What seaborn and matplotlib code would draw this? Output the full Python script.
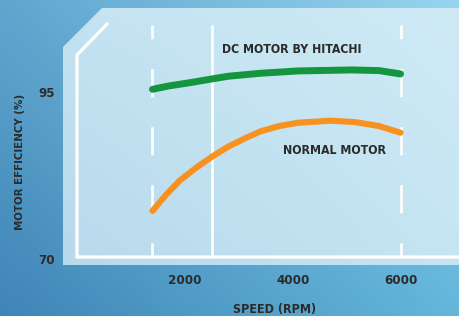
import numpy as np
import seaborn as sns
import matplotlib.pyplot as plt
from matplotlib.patches import Polygon
from matplotlib.colors import to_rgb

# Values: speed (rpm) and motor efficiency (%)
hitachi_rpm = [1400, 1700, 2100, 2500, 2800, 3400, 4100, 5100, 5600, 6000]
hitachi_eff = [95.4, 95.9, 96.4, 96.95, 97.35, 97.8, 98.15, 98.3, 98.2, 97.7]
normal_rpm = [1400, 1650, 1900, 2200, 2500, 2800, 3100, 3400, 3750, 4100,
              4700, 5150, 5600, 6000]
normal_eff = [77.2, 79.6, 81.7, 83.6, 85.3, 86.8, 88.0, 89.1, 89.9, 90.4,
              90.7, 90.5, 89.9, 88.9]
x_ticks = [2000, 4000, 6000]
y_ticks = [70, 95]
dashed_rpm = [1400, 6000]
solid_rpm = [2500]

FONT = ['DejaVu Sans Condensed', 'Liberation Sans Narrow', 'DejaVu Sans']
TEXT = '#2b2b2b'
plt.rcParams['font.family'] = FONT
plt.rcParams['font.stretch'] = 'condensed'
plt.rcParams['font.weight'] = 'bold'
plt.rcParams['axes.labelweight'] = 'bold'
plt.rcParams['lines.scale_dashes'] = False

W, H = 459, 316
fig = plt.figure(figsize=(W / 100, H / 100), dpi=100)


def gradient(h, w, tl, tr, bl, br):
    # bilinear blend of four corner colours
    tl, tr, bl, br = (np.array(to_rgb(c)) for c in (tl, tr, bl, br))
    u = np.linspace(0, 1, w)[None, :, None]
    v = np.linspace(0, 1, h)[:, None, None]
    top = tl * (1 - u) + tr * u
    bot = bl * (1 - u) + br * u
    return top * (1 - v) + bot * v


# background in pixel coordinates
bg = fig.add_axes([0, 0, 1, 1])
bg.set_xlim(0, W)
bg.set_ylim(H, 0)
bg.axis('off')
bg.imshow(gradient(H, W, '#5fa6cf', '#96d5ee', '#3f85b7', '#63b6db'),
          extent=(0, W, H, 0), aspect='auto', zorder=0)

# light panel with chamfered corner
panel = Polygon([(63, 265), (63, 47), (102, 8), (W, 8), (W, 265)],
                closed=True, facecolor='none', edgecolor='none')
bg.add_patch(panel)
im = bg.imshow(gradient(H, W, '#c3e2f1', '#cfeaf5', '#b2d6ea', '#c4e4f2'),
               extent=(0, W, H, 0), aspect='auto', zorder=1)
im.set_clip_path(panel)

# white frame
bg.plot([108, 77, 77, W], [23, 55, 257, 257], color='white', lw=2.3,
        solid_joinstyle='miter', solid_capstyle='butt', zorder=2)

# data axes
ax = fig.add_axes([77 / W, (H - 259) / H, 382 / W, 251 / H])
ax.patch.set_alpha(0)
ax.set_xlim(0, 7084)
ax.set_ylim(70, 107.57)
for s in ax.spines.values():
    s.set_visible(False)

ax.vlines(dashed_rpm, 70.3, 105, colors='white', lw=1.9,
          linestyles=[(10.0, (20.2, 21.6))], zorder=1)
ax.vlines(solid_rpm, 70.3, 105, colors='white', lw=1.9, zorder=1)

sns.lineplot(x=hitachi_rpm, y=hitachi_eff, color='#14963e', lw=5, ax=ax,
             solid_capstyle='round', zorder=3)
sns.lineplot(x=normal_rpm, y=normal_eff, color='#f7911f', lw=4.4, ax=ax,
             solid_capstyle='round', zorder=3)

ax.text(3985, 101.3, 'DC MOTOR BY HITACHI', ha='center', va='center',
        fontsize=8.8, color=TEXT)
ax.text(4784, 86.2, 'NORMAL MOTOR', ha='center', va='center',
        fontsize=8.8, color=TEXT)

ax.set_xticks(x_ticks)
ax.set_yticks(y_ticks)
ax.tick_params(length=0, labelsize=9.5, labelcolor=TEXT)
ax.tick_params(axis='x', pad=11)
ax.tick_params(axis='y', pad=16)

ax.set_xlabel('SPEED (RPM)', fontsize=9, color=TEXT)
ax.xaxis.set_label_coords(0.518, -0.2)
ax.xaxis.label.set_va('center')
ax.set_ylabel('MOTOR EFFICIENCY (%)', fontsize=8.2, color=TEXT)
ax.yaxis.set_label_coords(-0.149, 0.386)
ax.yaxis.label.set_va('center')

fig.savefig('out.png', dpi=100)
